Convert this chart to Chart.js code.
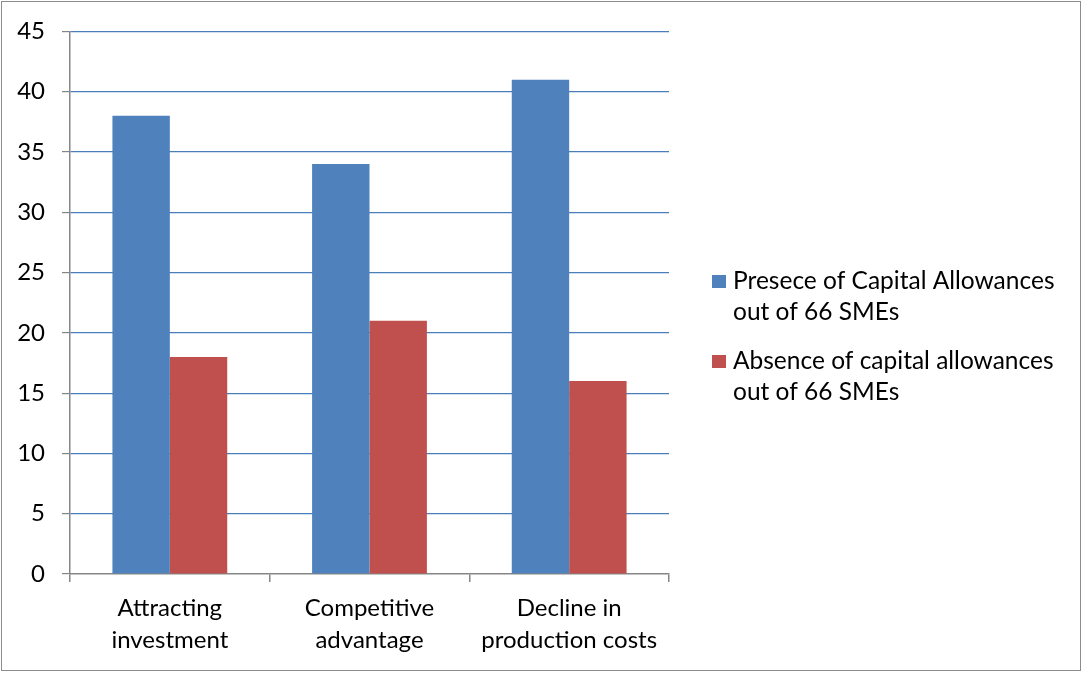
<!DOCTYPE html>
<html>
<head>
<meta charset="utf-8">
<script src="https://cdn.jsdelivr.net/npm/chart.js@4.4.1/dist/chart.umd.min.js"></script>
<style>
  html, body { margin: 0; padding: 0; background: #fff; }
  #wrap { width: 1084px; height: 673px; position: relative; }
</style>
</head>
<body>
<div id="wrap"><canvas id="c" width="1084" height="673"></canvas></div>
<script>
// Categories and series
const categories = [["Attracting", "investment"], ["Competitive", "advantage"], ["Decline in", "production costs"]];
const presenceLabel = ["Presece of Capital Allowances", "out of 66 SMEs"];
const absenceLabel = ["Absence of capital allowances", "out of 66 SMEs"];
const presenceValues = [38, 34, 41];
const absenceValues = [18, 21, 16];
const yTicks = [0, 5, 10, 15, 20, 25, 30, 35, 40, 45];

const FONT = "Lato, 'Open Sans', sans-serif";
const AXIS_GREY = "#868686";
const GRID_BLUE = "#4A7EBB";

// Outer frame and white background
const framePlugin = {
  id: "frame",
  beforeDraw(chart) {
    const ctx = chart.ctx;
    ctx.save();
    ctx.fillStyle = "#fff";
    ctx.fillRect(0, 0, chart.width, chart.height);
    ctx.strokeStyle = "#8c8c8c";
    ctx.lineWidth = 1;
    ctx.strokeRect(1.5, 1.5, chart.width - 5, chart.height - 4);
    ctx.restore();
  }
};

// Right-hand legend with two-line entries
const sideLegend = {
  id: "sideLegend",
  afterDraw(chart) {
    const ctx = chart.ctx;
    ctx.save();
    ctx.font = "24.5px " + FONT;
    ctx.textBaseline = "middle";
    ctx.fillStyle = "#000";
    const x0 = 712, textX = 733, lineH = 31;
    const tops = [281, 361];
    chart.data.datasets.forEach((ds, i) => {
      const y = tops[i];
      ctx.fillStyle = ds.backgroundColor;
      ctx.fillRect(x0, y - 6, 14, 13);
      ctx.fillStyle = "#000";
      ds.label.forEach((line, j) => ctx.fillText(line, textX, y + j * lineH));
    });
    ctx.restore();
  }
};

new Chart(document.getElementById("c"), {
  type: "bar",
  data: {
    labels: categories,
    datasets: [
      { label: presenceLabel, data: presenceValues, backgroundColor: "#4F81BD", borderWidth: 0 },
      { label: absenceLabel, data: absenceValues, backgroundColor: "#C0504D", borderWidth: 0 }
    ]
  },
  options: {
    responsive: false,
    animation: false,
    events: [],
    layout: { padding: { left: 0, top: 31, right: 415, bottom: 0 } },
    datasets: { bar: { categoryPercentage: 0.575, barPercentage: 1.0 } },
    plugins: { legend: { display: false }, tooltip: { enabled: false } },
    scales: {
      x: {
        offset: true,
        grid: { offset: true, drawOnChartArea: false, tickLength: 8, tickColor: AXIS_GREY, lineWidth: 1.5 },
        border: { color: AXIS_GREY, width: 1.5 },
        ticks: { color: "#000", font: { family: FONT, size: 24, lineHeight: 1.3 }, padding: 11, maxRotation: 0, autoSkip: false },
        afterFit(s) { s.height = 99; }
      },
      y: {
        min: 0, max: 45,
        afterBuildTicks(s) { s.ticks = yTicks.map(v => ({ value: v })); },
        grid: {
          color: c => (c.tick && c.tick.value === 0 ? "rgba(0,0,0,0)" : GRID_BLUE),
          tickColor: AXIS_GREY, tickLength: 8, lineWidth: 1.2
        },
        border: { color: AXIS_GREY, width: 1.5 },
        ticks: { color: "#000", font: { family: FONT, size: 24 }, padding: 17 },
        afterFit(s) { s.width = 70; }
      }
    }
  },
  plugins: [framePlugin, sideLegend]
});
</script>
</body>
</html>
